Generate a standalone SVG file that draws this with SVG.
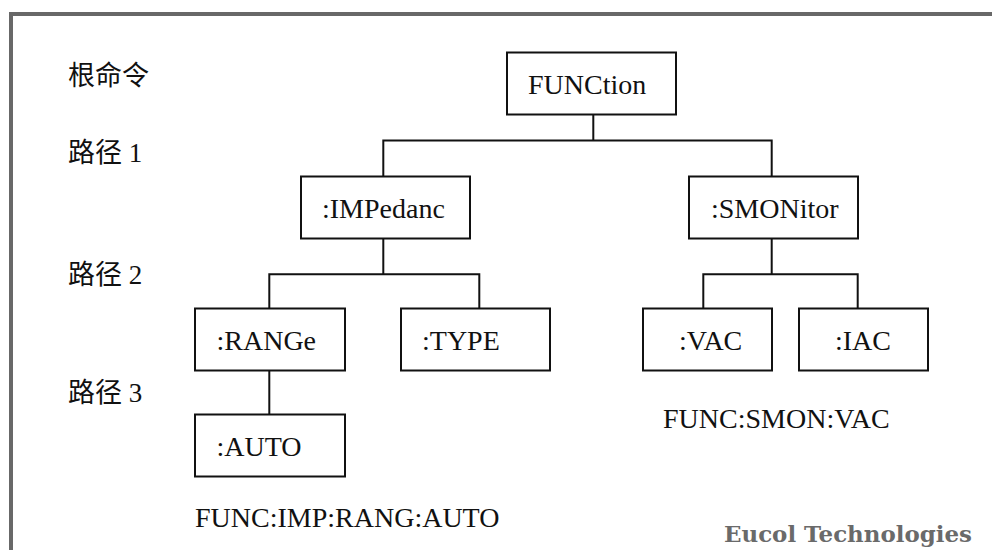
<svg xmlns="http://www.w3.org/2000/svg" width="992" height="550" viewBox="0 0 992 550">
<style>
.box{fill:#fff;stroke:#111;stroke-width:2}
.t{font-family:"Liberation Serif","Noto Sans CJK SC",serif;font-size:28px;fill:#111}
.lbl{font-family:"Liberation Serif","Noto Sans CJK SC",serif;font-size:27px;fill:#111}
.conn{fill:none;stroke:#111;stroke-width:2}
</style>
<rect width="992" height="550" fill="#fff"/>
<path d="M11 550 V14 H992" fill="none" stroke="#686868" stroke-width="4"/>
<g id="labels">
<text class="lbl" x="68" y="85">根命令</text>
<text class="lbl" x="68" y="162">路径 1</text>
<text class="lbl" x="68" y="284">路径 2</text>
<text class="lbl" x="68" y="402">路径 3</text>
</g>
<g id="connectors">
<path class="conn" d="M593.3 115 V140.5 M383.3 176 V140.5 H771.7 V176"/>
<path class="conn" d="M383.3 239 V274.3 M269.3 308 V274.3 H479.3 V308"/>
<path class="conn" d="M269.3 371 V414"/>
<path class="conn" d="M771.7 239 V274.3 M703.3 308 V274.3 H857.7 V308"/>
</g>
<g id="n-function"><rect class="box" x="507" y="52.5" width="169" height="62"/><text class="t" x="528" y="94">FUNCtion</text></g>
<g id="n-impedanc"><rect class="box" x="301" y="176.5" width="169" height="62"/><text class="t" x="322" y="218">:IMPedanc</text></g>
<g id="n-smonitor"><rect class="box" x="689" y="176.5" width="169" height="62"/><text class="t" x="711" y="218">:SMONitor</text></g>
<g id="n-range"><rect class="box" x="195" y="308.5" width="150" height="62"/><text class="t" x="216.5" y="350">:RANGe</text></g>
<g id="n-type"><rect class="box" x="401" y="308.5" width="149" height="62"/><text class="t" x="422" y="350">:TYPE</text></g>
<g id="n-vac"><rect class="box" x="643" y="308.5" width="129" height="62"/><text class="t" x="679" y="350">:VAC</text></g>
<g id="n-iac"><rect class="box" x="799" y="308.5" width="129" height="62"/><text class="t" x="835" y="350">:IAC</text></g>
<g id="n-auto"><rect class="box" x="195" y="414.5" width="150" height="62"/><text class="t" x="216.5" y="456">:AUTO</text></g>
<g id="captions">
<text class="t" x="663" y="428">FUNC:SMON:VAC</text>
<text class="t" x="195" y="527">FUNC:IMP:RANG:AUTO</text>
<text x="724" y="542" font-family="'DejaVu Serif',serif" font-weight="bold" font-size="22" fill="#6a6a6a" textLength="248" lengthAdjust="spacingAndGlyphs">Eucol Technologies</text>
</g>
</svg>
